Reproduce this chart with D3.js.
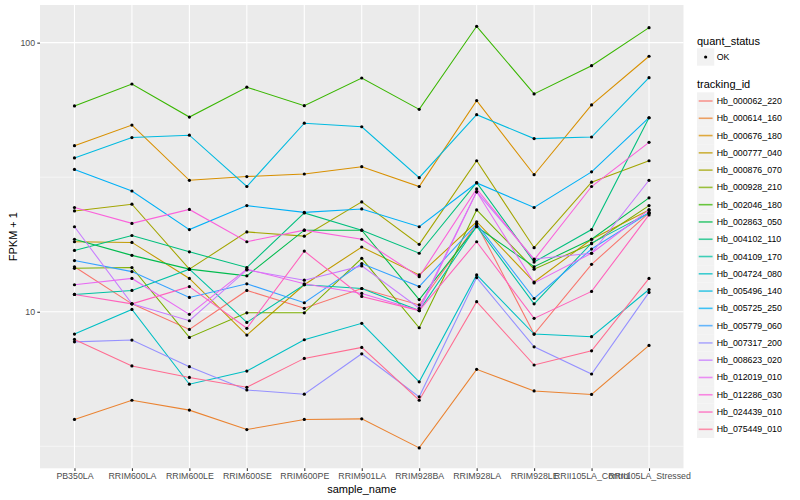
<!DOCTYPE html>
<html>
<head>
<meta charset="utf-8">
<script src="https://cdn.jsdelivr.net/npm/d3@7"></script>
<style>
  body { margin: 0; background: #fff; }
  svg { font-family: "Liberation Sans", Arial, sans-serif; }
</style>
</head>
<body>
<svg id="chart" width="800" height="500"></svg>
<script>
var samples = ["PB350LA", "RRIM600LA", "RRIM600LE", "RRIM600SE", "RRIM600PE", "RRIM901LA",
  "RRIM928BA", "RRIM928LA", "RRIM928LE", "RRII105LA_Control", "RRII105LA_Stressed"];

var trackingIds = ["Hb_000062_220", "Hb_000614_160", "Hb_000676_180", "Hb_000777_040", "Hb_000876_070",
  "Hb_000928_210", "Hb_002046_180", "Hb_002863_050", "Hb_004102_110", "Hb_004109_170",
  "Hb_004724_080", "Hb_005496_140", "Hb_005725_250", "Hb_005779_060", "Hb_007317_200",
  "Hb_008623_020", "Hb_012019_010", "Hb_012286_030", "Hb_024439_010", "Hb_075449_010"];

// FPKM + 1, one array per tracking id, in sample order
var hb000062_220 = [14.7, 10.7, 8.6, 12.0, 10.3, 12.2, 10.6, 21.2, 8.26, 15.0, 23.3];
var hb000614_160 = [3.98, 4.69, 4.31, 3.65, 3.98, 4.0, 3.12, 6.11, 5.08, 4.93, 7.5];
var hb000676_180 = [41.4, 49.4, 30.8, 31.8, 32.5, 34.6, 29.2, 60.9, 32.3, 58.7, 89.0];
var hb000777_040 = [18.2, 18.1, 13.3, 8.19, 12.6, 17.4, 13.7, 21.6, 12.9, 18.6, 23.9];
var hb000876_070 = [23.7, 25.1, 14.4, 19.8, 19.1, 25.6, 17.8, 36.4, 17.3, 30.3, 36.4];
var hb000928_210 = [14.5, 14.6, 8.03, 9.91, 9.91, 15.8, 8.72, 23.9, 14.4, 17.9, 24.8];
var hb002046_180 = [58.2, 70.2, 52.9, 68.3, 58.3, 73.9, 56.5, 115, 64.5, 82.1, 113.7];
var hb002863_050 = [18.6, 16.2, 14.4, 13.6, 20.1, 20.1, 11.1, 20.7, 14.7, 18.6, 26.5];
var hb004102_110 = [16.9, 19.2, 16.7, 14.6, 23.3, 20.1, 16.5, 30.2, 15.3, 20.2, 52.6];
var hb004109_170 = [11.6, 12.0, 14.4, 9.13, 12.6, 12.2, 10.1, 20.8, 10.7, 18.0, 23.3];
var hb004724_080 = [8.26, 10.2, 5.38, 6.02, 7.87, 9.06, 5.49, 13.7, 8.26, 8.08, 12.1];
var hb005496_140 = [37.3, 44.4, 45.3, 29.2, 50.2, 48.7, 31.5, 54.0, 44.0, 44.6, 74.1];
var hb005725_250 = [33.8, 28.1, 20.2, 24.8, 23.4, 24.1, 20.7, 30.1, 24.4, 33.1, 52.6];
var hb005779_060 = [15.5, 14.1, 11.3, 12.7, 10.8, 15.1, 12.4, 21.2, 11.2, 17.1, 23.3];
var hb007317_200 = [7.73, 7.85, 6.25, 5.12, 4.94, 6.98, 4.83, 13.4, 7.41, 5.87, 11.8];
var hb008623_020 = [20.7, 10.7, 9.26, 14.3, 13.1, 14.8, 10.3, 27.9, 15.7, 16.5, 30.8];
var hb012019_010 = [12.6, 13.3, 9.78, 14.4, 12.7, 11.7, 10.1, 27.9, 12.8, 16.5, 23.9];
var hb012286_030 = [24.4, 21.3, 24.0, 18.2, 20.1, 18.6, 13.5, 28.6, 15.6, 29.2, 42.6];
var hb024439_010 = [11.6, 10.7, 12.4, 8.68, 16.8, 11.4, 10.1, 18.2, 9.45, 11.9, 22.9];
var hb075449_010 = [7.89, 6.29, 5.70, 5.24, 6.71, 7.37, 4.69, 10.9, 6.34, 7.16, 13.3];

var seriesValues = [hb000062_220, hb000614_160, hb000676_180, hb000777_040, hb000876_070,
  hb000928_210, hb002046_180, hb002863_050, hb004102_110, hb004109_170,
  hb004724_080, hb005496_140, hb005725_250, hb005779_060, hb007317_200,
  hb008623_020, hb012019_010, hb012286_030, hb024439_010, hb075449_010];

var yTicks = [10, 100];
var yMinor = [Math.sqrt(10), Math.sqrt(1000)];

// ggplot hue palette, 20 levels
var colors = ["#F8766D", "#EA8331", "#D89000", "#C09B00", "#A3A500", "#7CAE00", "#39B600", "#00BB4E",
  "#00BF7D", "#00C1A3", "#00BFC4", "#00BAE0", "#00B0F6", "#35A2FF", "#9590FF", "#C77CFF",
  "#E76BF3", "#FA62DB", "#FF62BC", "#FF6C91"];

var series = trackingIds.map(function(id, i) {
  return { id: id, values: seriesValues[i].map(function(v, j) { return { sample: samples[j], value: v }; }) };
});

var panel = { left: 40, right: 683.5, top: 5, bottom: 468.3 };

var svg = d3.select("#chart");

var x = d3.scalePoint()
  .domain(samples)
  .range([panel.left, panel.right])
  .padding(0.6);

var y = d3.scaleLog()
  .domain([2.62, 138])
  .range([panel.bottom, panel.top]);

var color = d3.scaleOrdinal().domain(trackingIds).range(colors);

// panel background
svg.append("rect")
  .attr("x", panel.left)
  .attr("y", panel.top)
  .attr("width", panel.right - panel.left)
  .attr("height", panel.bottom - panel.top)
  .attr("fill", "#EBEBEB");

var grid = svg.append("g");

grid.selectAll("line.minor")
  .data(yMinor)
  .join("line")
    .attr("class", "minor")
    .attr("x1", panel.left).attr("x2", panel.right)
    .attr("y1", d => y(d)).attr("y2", d => y(d))
    .attr("stroke", "#fff").attr("stroke-width", 0.53);

grid.selectAll("line.majory")
  .data(yTicks)
  .join("line")
    .attr("class", "majory")
    .attr("x1", panel.left).attr("x2", panel.right)
    .attr("y1", d => y(d)).attr("y2", d => y(d))
    .attr("stroke", "#fff").attr("stroke-width", 1.07);

grid.selectAll("line.majorx")
  .data(samples)
  .join("line")
    .attr("class", "majorx")
    .attr("x1", d => x(d)).attr("x2", d => x(d))
    .attr("y1", panel.top).attr("y2", panel.bottom)
    .attr("stroke", "#fff").attr("stroke-width", 1.07);

var line = d3.line()
  .x(d => x(d.sample))
  .y(d => y(d.value));

svg.append("g")
  .selectAll("path")
  .data(series)
  .join("path")
    .attr("d", d => line(d.values))
    .attr("fill", "none")
    .attr("stroke", d => color(d.id))
    .attr("stroke-width", 1.07);

svg.append("g")
  .selectAll("g")
  .data(series)
  .join("g")
  .selectAll("circle")
  .data(d => d.values)
  .join("circle")
    .attr("cx", d => x(d.sample))
    .attr("cy", d => y(d.value))
    .attr("r", 1.6)
    .attr("fill", "#000");

// axes
var xAxis = g => g
  .attr("transform", `translate(0,${panel.bottom})`)
  .call(d3.axisBottom(x).tickSize(2.7).tickPadding(2.2))
  .call(g => g.select(".domain").remove())
  .call(g => g.selectAll("line").attr("stroke", "#333").attr("stroke-width", 1.07))
  .call(g => g.selectAll("text").attr("fill", "#4D4D4D").style("font-size", "8.8px"));

var yAxis = g => g
  .attr("transform", `translate(${panel.left},0)`)
  .call(d3.axisLeft(y).tickValues(yTicks).tickFormat(d3.format("d")).tickSize(2.7).tickPadding(2.2))
  .call(g => g.select(".domain").remove())
  .call(g => g.selectAll("line").attr("stroke", "#333").attr("stroke-width", 1.07))
  .call(g => g.selectAll("text").attr("fill", "#4D4D4D").style("font-size", "8.8px"));

svg.append("g").call(xAxis);
svg.append("g").call(yAxis);

svg.append("text")
  .attr("x", (panel.left + panel.right) / 2)
  .attr("y", 492.5)
  .style("font-size", "11px")
  .style("text-anchor", "middle")
  .text("sample_name");

svg.append("text")
  .attr("transform", `translate(17,${(panel.top + panel.bottom) / 2}) rotate(-90)`)
  .style("font-size", "11px")
  .style("text-anchor", "middle")
  .text("FPKM + 1");

// legends
var legend = svg.append("g");
var keySize = 17.28;
var keyX = 697;

legend.append("text")
  .attr("x", keyX).attr("y", 44.5)
  .style("font-size", "11px")
  .text("quant_status");

legend.append("rect")
  .attr("x", keyX).attr("y", 57 - keySize / 2)
  .attr("width", keySize).attr("height", keySize)
  .attr("fill", "#F2F2F2");

legend.append("circle")
  .attr("cx", keyX + keySize / 2).attr("cy", 57)
  .attr("r", 1.6).attr("fill", "#000");

legend.append("text")
  .attr("x", keyX + keySize + 2.5).attr("y", 60)
  .style("font-size", "8.8px")
  .text("OK");

legend.append("text")
  .attr("x", keyX).attr("y", 88)
  .style("font-size", "11px")
  .text("tracking_id");

var keys = legend.selectAll("g.key")
  .data(trackingIds)
  .join("g")
    .attr("class", "key")
    .attr("transform", (d, i) => `translate(${keyX},${101 + i * keySize})`);

keys.append("rect")
  .attr("y", -keySize / 2)
  .attr("width", keySize).attr("height", keySize)
  .attr("fill", "#F2F2F2");

keys.append("line")
  .attr("x1", 1.7).attr("x2", keySize - 1.7)
  .attr("stroke", d => color(d))
  .attr("stroke-opacity", 0.75)
  .attr("stroke-width", 1.6);

keys.append("text")
  .attr("x", keySize + 2.5)
  .attr("y", 3)
  .style("font-size", "8.8px")
  .text(d => d);
</script>
</body>
</html>
